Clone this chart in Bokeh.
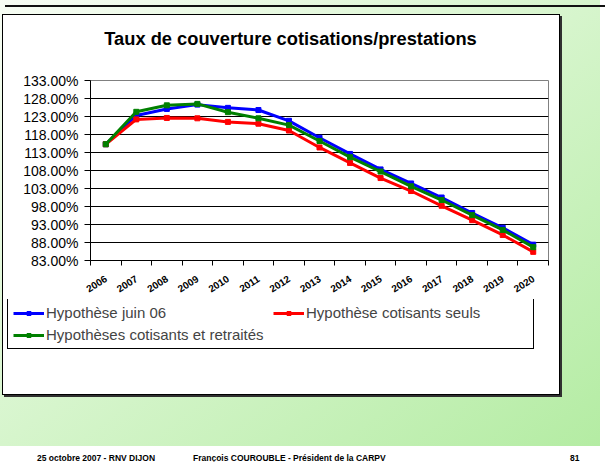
import math
from bokeh.plotting import figure
from bokeh.layouts import column
from bokeh.models import (Range1d, FixedTicker, PrintfTickFormatter, Legend, LegendItem, Div, Label)
from bokeh.embed import file_html
from bokeh.resources import INLINE

# ---------------- data ----------------
years = [2006, 2007, 2008, 2009, 2010, 2011, 2012, 2013, 2014, 2015, 2016, 2017, 2018, 2019, 2020]
year_labels = [str(y) for y in years]
hyp_juin06 = [115.3, 123.3, 125.1, 126.3, 125.4, 124.8, 121.8, 117.1, 112.6, 108.3, 104.4, 100.5, 96.2, 92.1, 87.4]
hyp_cotisants_seuls = [115.3, 122.2, 122.6, 122.5, 121.5, 121.0, 119.1, 114.4, 110.1, 105.9, 102.3, 98.2, 94.2, 90.1, 85.4]
hyp_cot_retraites = [115.3, 124.3, 126.1, 126.5, 124.2, 122.5, 120.6, 116.2, 111.7, 107.7, 103.6, 99.8, 95.6, 91.5, 86.7]
series_names = ["Hypothèse juin 06", "Hypothèse cotisants seuls", "Hypothèses cotisants et retraités"]
y_ticks = [83, 88, 93, 98, 103, 108, 113, 118, 123, 128, 133]
title_text = "Taux de couverture cotisations/prestations"
footer_left = "25 octobre 2007 - RNV DIJON"
footer_mid = "François COUROUBLE - Président de la CARPV"
footer_page = "81"

# ---------------- layout ----------------
FONT = "Liberation Sans"
BOX_W = 556
T_H, P_H, LEG_H = 50, 234, 95
FL, FR, FT, FB = 87, 11, 15, 34
colors = ["#0000ff", "#ff0000", "#008000"]
series_vals = [hyp_juin06, hyp_cotisants_seuls, hyp_cot_retraites]


def no_align(fig):
    try:
        fig.frame_align = False
    except AttributeError:
        pass


def blank_panel(height):
    f = figure(width=BOX_W, height=height, x_range=Range1d(0, 1), y_range=Range1d(0, 1),
               x_axis_location=None, y_axis_location=None, output_backend="svg",
               toolbar_location=None, min_border=0, min_border_left=0, min_border_right=0,
               min_border_top=0, min_border_bottom=0, background_fill_color="white",
               border_fill_color="white", outline_line_color=None)
    f.grid.visible = False
    no_align(f)
    return f


# title panel
t = blank_panel(T_H)
t.add_layout(Label(x=287, y=27, x_units="screen", y_units="screen", text=title_text,
                   text_font=FONT, text_font_size="18.3px", text_font_style="bold",
                   text_align="center", text_baseline="middle", text_color="black"))

# main plot
p = figure(width=BOX_W, height=P_H, x_range=Range1d(years[0] - 0.5, years[-1] + 0.5),
           y_range=Range1d(y_ticks[0], y_ticks[-1]), output_backend="svg",
           toolbar_location=None, min_border_left=FL, min_border_right=FR,
           min_border_top=FT, min_border_bottom=FB, background_fill_color="white",
           border_fill_color="white", outline_line_color="#808080")
no_align(p)

xa = p.xaxis[0]
xa.ticker = FixedTicker(ticks=years, minor_ticks=[y - 0.5 for y in years] + [years[-1] + 0.5])
xa.major_label_overrides = {y: lab for y, lab in zip(years, year_labels)}
xa.major_label_orientation = math.radians(32)
xa.major_tick_in = 0
xa.major_tick_out = 0
xa.minor_tick_in = 0
xa.minor_tick_out = 5
xa.minor_tick_line_color = "black"
xa.axis_line_color = "black"
xa.major_label_text_font = FONT
xa.major_label_text_font_size = "10px"
xa.major_label_text_font_style = "bold"
xa.major_label_text_color = "black"
xa.major_label_standoff = 12

ya = p.yaxis[0]
ya.ticker = FixedTicker(ticks=y_ticks)
ya.formatter = PrintfTickFormatter(format="%.2f%%")
ya.major_tick_in = 0
ya.major_tick_out = 6
ya.minor_tick_line_color = None
ya.axis_line_color = "black"
ya.major_tick_line_color = "black"
ya.major_label_text_font = FONT
ya.major_label_text_font_size = "14px"
ya.major_label_text_color = "black"
ya.major_label_standoff = 6

p.xgrid.visible = False
p.ygrid.grid_line_color = "black"
p.ygrid.grid_line_width = 1

for vals, col in zip(series_vals, colors):
    p.line(years, vals, line_color=col, line_width=3)
    p.scatter(years, vals, marker="square", size=5, fill_color=col, line_color=col)

# legend panel; its renderers reuse the series data but lie outside this panel's view
q = blank_panel(LEG_H)
items = []
for name, vals, col in zip(series_names, series_vals, colors):
    ln = q.line(years, vals, line_color=col, line_width=3)
    mk = q.scatter(years, vals, marker="square", size=5, fill_color=col, line_color=col)
    items.append(LegendItem(label=name, renderers=[ln, mk]))
legend = Legend(items=items, location=(4, 45), orientation="horizontal", ncols=2,
                border_line_color="black", border_line_width=1, border_line_alpha=1,
                padding=5, spacing=5, margin=0, glyph_width=31, glyph_height=10,
                label_standoff=2, label_width=222, label_height=17,
                label_text_font=FONT, label_text_font_size="15px",
                background_fill_color="white", background_fill_alpha=1)
q.add_layout(legend, "center")

chart_box = column(t, p, q, width=BOX_W, height=T_H + P_H + LEG_H, margin=(3, 0, 0, 3),
                   styles={"background": "white",
                           "box-shadow": "0 0 0 1px #000000, 2px 2px 0 1px #303030"})

# page decoration: top rule + footer on gradient
rule = Div(text="", width=600, height=2, styles={"background-color": "#111111"})
span = ("position:absolute;top:54px;font-family:'Liberation Sans',Arial,sans-serif;"
        "font-weight:bold;font-size:8.5px;line-height:10px;color:#000;white-space:nowrap;")
footer_html = (
    '<div style="position:relative;width:600px;height:62px;">'
    f'<span style="{span}left:32px;">{footer_left}</span>'
    f'<span style="{span}left:188px;">{footer_mid}</span>'
    f'<span style="{span}left:565px;">{footer_page}</span>'
    '</div>'
)
footer = Div(text=footer_html, width=600, height=62)

page = column(rule, chart_box, footer, width=600, height=446,
              styles={"background": "linear-gradient(to bottom right, #f7fdf4 0%, #d6f5cc 50%, #b4eca3 100%)"})

open("out.html", "w").write(file_html(page, INLINE))
